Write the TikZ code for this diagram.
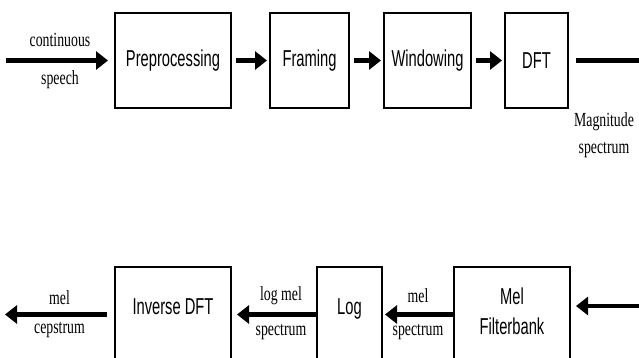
\documentclass[tikz,border=0pt]{standalone}
\usepackage{fontspec}
\setmainfont{Liberation Serif}[FakeStretch=0.69]
\newfontfamily\boxfont{Liberation Sans}[FakeStretch=0.64]
\usetikzlibrary{arrows.meta, positioning, calc}

\begin{document}
\begin{tikzpicture}[x=1pt, y=-1pt, >={Triangle[length=12pt,width=18pt]},
  block/.style={draw, line width=2pt, inner sep=0pt, minimum height=95pt},
  boxtext/.style={font=\boxfont\fontsize{23}{30}\selectfont, align=center},
  flow/.style={->, line width=4.5pt},
  tag/.style={font=\fontsize{20}{27}\selectfont, align=center}]
\clip (0,0) rectangle (639,358);
% upper row: speech to magnitude spectrum
\node[block, boxtext, minimum width=116pt] (pre) at (173,60.5) {Preprocessing};
\node[block, boxtext, minimum width=79pt] (frame) at (309.5,60.5) {Framing};
\node[block, boxtext, minimum width=87pt] (win) at (427.5,60.5) {Windowing};
\node[block, boxtext, minimum width=63pt] (dft) at (536.5,60.5) {DFT};
\coordinate (speech) at (6,60.5);
\draw[flow, shorten >=6pt] (speech) -- node[tag, yshift=20.5pt] (cont) {continuous}
  node[tag, yshift=-19.5pt] (sp) {speech} (pre);
\draw[flow, shorten <=4pt, shorten >=2pt] (pre) -- (frame);
\draw[flow, shorten <=4pt, shorten >=2pt] (frame) -- (win);
\draw[flow, shorten <=4pt, shorten >=2pt] (win) -- (dft);
\coordinate (mag) at (639,60.5);
\draw[line width=4.5pt, shorten <=7pt] (dft) -- node[tag, yshift=-75pt] (magtext) {Magnitude\\spectrum} (mag);
% lower row: magnitude spectrum to mel cepstrum
\node[block, minimum width=116pt] (inv) at (173,314.5) {};
\node[block, minimum width=65pt] (log) at (349.5,314.5) {};
\node[block, minimum width=116pt] (mel) at (512,314.5) {};
\node[boxtext] (invtext) at ([yshift=8pt]inv.center) {Inverse DFT};
\node[boxtext] (logtext) at ([yshift=6pt]log.center) {Log};
\node[boxtext] (meltext) at ([yshift=3pt]mel.center) {Mel\\Filterbank};
\coordinate (magin) at (639,306);
\draw[flow, shorten >=5pt] (magin) -- (magin -| mel.east);
\draw[flow, shorten >=2pt] (mel) -- node[tag, yshift=19pt] (mel1) {mel}
  node[tag, yshift=-17.5pt] (spec1) {spectrum} (log);
\draw[flow, shorten >=5pt] (log) -- node[tag, xshift=7pt, yshift=19pt] (logmel) {log mel}
  node[tag, xshift=7pt, yshift=-17.5pt] (spec2) {spectrum} (inv);
\coordinate (cep) at (5,314.5);
\draw[flow, shorten <=7pt] (inv) -- node[tag, yshift=16.5pt] (mel2) {mel}
  node[tag, yshift=-15.5pt] (ceps) {cepstrum} (cep);
\end{tikzpicture}
\end{document}
